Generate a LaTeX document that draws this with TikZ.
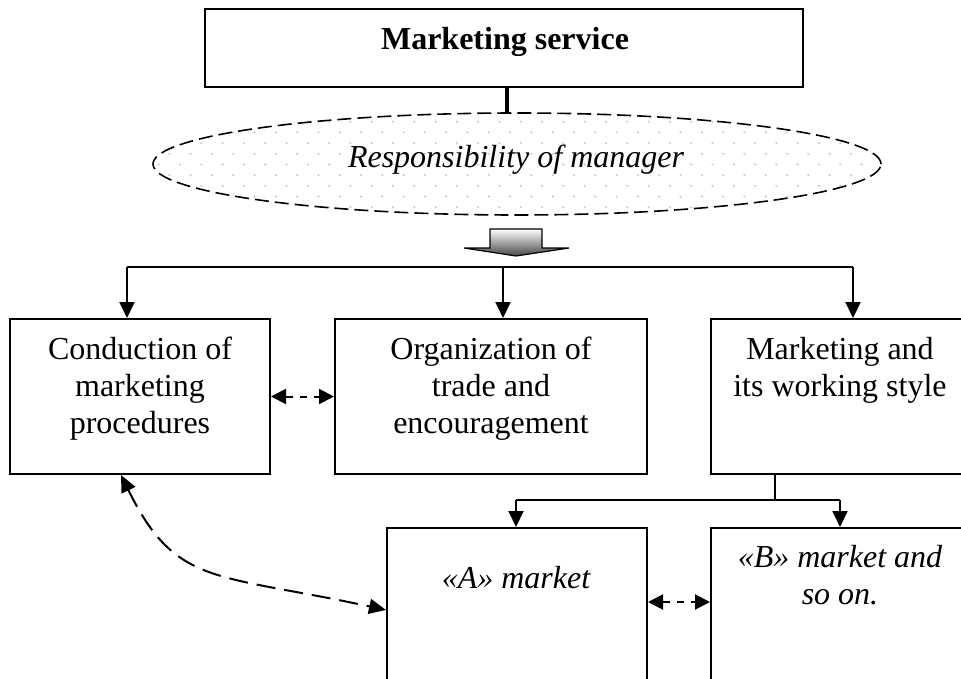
\documentclass[tikz,border=0pt]{standalone}
\usepackage{fontspec}
\setmainfont{Liberation Serif}
\usetikzlibrary{arrows.meta,shapes.geometric}
\begin{document}
\begin{tikzpicture}[x=1pt,y=-1pt,
  box/.style={draw, line width=2pt, rectangle, inner sep=0pt},
  txt/.style={inner sep=0pt, align=center, font=\fontsize{32}{36.7}\selectfont},
  link/.style={line width=2pt},
  down/.style={link, -{Triangle[length=16pt,width=15pt]}},
  twoway/.style={line width=2pt, dash pattern=on 7pt off 7pt,
    {Triangle[length=15pt,width=15pt]}-{Triangle[length=15pt,width=15pt]}},
  curvearrow/.style={line width=2pt, dash pattern=on 19pt off 9pt,
    {Triangle[length=17pt,width=15pt]}-{Triangle[length=17pt,width=15pt]}}]

\useasboundingbox (0,0) rectangle (961,679);
\clip (0,0) rectangle (961,679);
\fill[white] (0,0) rectangle (961,679);

% head of the structure
\node[box, minimum width=598pt, minimum height=78pt] (top) at (504,48) {};
\node[txt, anchor=base, font=\fontsize{32}{36.7}\selectfont\bfseries] (toptext) at (505,50) {Marketing service};

% dotted ellipse
\begin{scope}
  \clip (517,164) ellipse [x radius=364, y radius=51];
  \foreach \r in {0,...,10} {
    \foreach \c in {0,...,36} {
      \fill[gray!40] ({148+\c*21.3+mod(\r,2)*10.65}, {111+\r*10.7}) circle (1.2pt);
    }
  }
\end{scope}
\node[ellipse, draw, line width=1.6pt, dash pattern=on 14pt off 6pt,
      minimum width=728pt, minimum height=102pt, inner sep=0pt] (ell) at (517,164) {};
\node[txt, anchor=base, font=\fontsize{32}{36.7}\selectfont\itshape] (elltext) at (516,168) {Responsibility of manager};

\draw[line width=4.5pt] ([xshift=3pt]top.south) -- ([xshift=3pt]top.south |- ell.north);

% shaded block arrow
\shade[top color=white, bottom color=gray!55!black, draw=black, line width=1.2pt]
  (490,229) -- (542,229) -- (542,248) -- (569,248) -- (516,256) -- (464,248) -- (490,248) -- cycle;

% first level boxes
\node[box, minimum width=260pt, minimum height=155pt] (lb) at (140,396.5) {};
\node[box, minimum width=312pt, minimum height=155pt] (mb) at (491,396.5) {};
\node[box, minimum width=260pt, minimum height=155pt] (rb) at (841,396.5) {};
\node[txt, anchor=north] (lt) at (140,337) {Conduction of\\marketing\\procedures};
\node[txt, anchor=north] (mt) at (491,337) {Organization of\\trade and\\encouragement};
\node[txt, anchor=north] (rt) at (840,337) {Marketing and\\its working style};

% second level boxes
\node[box, minimum width=260pt, minimum height=212pt] (ab) at (517,634) {};
\node[box, minimum width=260pt, minimum height=212pt] (bb) at (841,634) {};
\node[txt, anchor=base, font=\fontsize{32}{36.7}\selectfont\itshape] (at) at (516,588) {«A» market};
\node[txt, anchor=north, font=\fontsize{32}{36.7}\selectfont\itshape] (bt) at (840,545) {«B» market and\\so on.};

% distribution bus
\coordinate (busL) at (127,267);
\coordinate (busM) at (503,267);
\coordinate (busR) at (853,267);
\draw[link] (busL) -- (busR);
\draw[down] (busL) -- (busL |- lb.north);
\draw[down] (busM) -- (busM |- mb.north);
\draw[down] (busR) -- (busR |- rb.north);

% branch to the markets
\coordinate (brJ) at (775,500);
\coordinate (brL) at (516,500);
\coordinate (brR) at (840,500);
\draw[link] (rb.south -| brJ) -- (brJ);
\draw[link] (brL) -- (brR);
\draw[down] (brL) -- (brL |- ab.north);
\draw[down] (brR) -- (brR |- bb.north);

% two-way links
\draw[twoway] (lb.east) -- (mb.west);
\draw[twoway] ([yshift=32pt]ab.east) -- ([yshift=32pt]bb.west);
\draw[curvearrow] ([xshift=-19pt]lb.south) .. controls (176,587) and (215,573) .. ([yshift=24pt]ab.west);
\end{tikzpicture}
\end{document}
